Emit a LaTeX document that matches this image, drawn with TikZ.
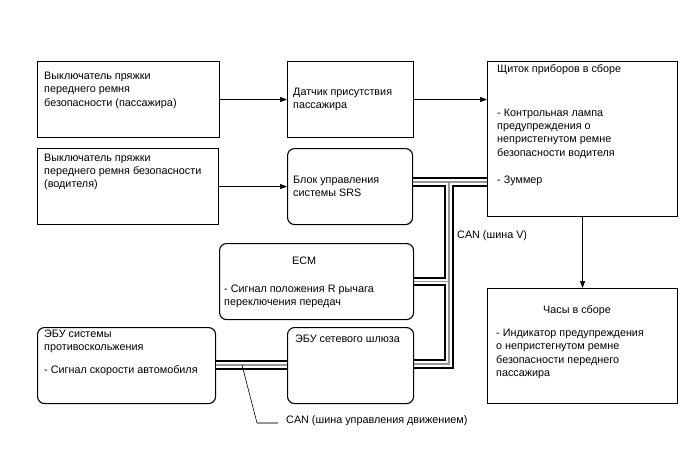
\documentclass[tikz,border=0pt]{standalone}
\usepackage{fontspec}
\setmainfont{Liberation Sans}
\usepackage{xcolor}
\usetikzlibrary{arrows.meta}
\definecolor{busgray}{RGB}{150,150,150}

\begin{document}
\begin{tikzpicture}[x=1pt,y=-1pt,
    sbox/.style={draw, line width=1.1pt, inner sep=0pt, anchor=north west},
    rbox/.style={sbox, rounded corners=7pt},
    txt/.style={inner sep=0pt, align=left, anchor=base west,
                font=\fontsize{10.8}{13.4}\selectfont},
    sig/.style={line width=0.7pt, -{Triangle[length=7pt,width=5pt]}},
    canbus/.style={preaction={draw, black, line width=9.4pt},
                   preaction={draw, white, line width=5.8pt},
                   draw=busgray, line width=1.3pt}]
    \useasboundingbox (0,0) rectangle (688,463);

    % boxes
    \node[sbox, minimum width=182pt, minimum height=76pt] (pbuckle) at (37,61) {};
    \node[sbox, minimum width=126pt, minimum height=76pt] (sensor) at (287,61) {};
    \node[sbox, minimum width=181pt, minimum height=76pt] (dbuckle) at (37,148) {};
    \node[rbox, minimum width=125pt, minimum height=76pt] (srs) at (287,148) {};
    \node[sbox, minimum width=190pt, minimum height=155pt] (cluster) at (487,61) {};
    \node[sbox, minimum width=190pt, minimum height=115pt] (clock) at (487,288) {};
    \node[rbox, minimum width=194pt, minimum height=76pt] (ecm) at (219,243) {};
    \node[rbox, minimum width=178pt, minimum height=76pt] (skid) at (37,327) {};
    \node[rbox, minimum width=126pt, minimum height=76pt] (gateway) at (287,327) {};

    % texts (base = last line)
    \node[txt] (pbuckle-t) at (44,106.3) {Выключатель пряжки\\переднего ремня\\безопасности (пассажира)};
    \node[txt] (sensor-t) at (293,108.4) {Датчик присутствия\\пассажира};
    \node[txt] (dbuckle-t) at (44,187.8) {Выключатель пряжки\\переднего ремня безопасности\\(водителя)};
    \node[txt] (srs-t) at (293,196.9) {Блок управления\\системы SRS};
    \node[txt] (cluster-t) at (497,72.5) {Щиток приборов в сборе};
    \node[txt] (lamp-t) at (497,156.2) {- Контрольная лампа\\предупреждения о\\непристегнутом ремне\\безопасности водителя};
    \node[txt] (buzzer-t) at (497,183) {- Зуммер};
    \node[txt] (clock-t) at (543,313) {Часы в сборе};
    \node[txt] (ind-t) at (496,376.7) {- Индикатор предупреждения\\о непристегнутом ремне\\безопасности переднего\\пассажира};
    \node[txt] (ecm-t) at (292,264) {ECM};
    \node[txt] (rpos-t) at (224,305.9) {- Сигнал положения R рычага\\переключения передач};
    \node[txt] (skid-t) at (44,350.4) {ЭБУ системы\\противоскольжения};
    \node[txt] (speed-t) at (44,373) {- Сигнал скорости автомобиля};
    \node[txt] (gateway-t) at (295,342.5) {ЭБУ сетевого шлюза};
    \node[txt] (canv-t) at (457,238) {CAN (шина V)};
    \node[txt] (canm-t) at (286,423.5) {CAN (шина управления движением)};

    % signal arrows
    \draw[sig] (pbuckle.east) -- (sensor.west);
    \draw[sig] (sensor.east) -- (sensor.east -| cluster.west);
    \draw[sig] (dbuckle.east) -- (srs.west);
    \draw[sig] (cluster.south) -- (clock.north);

    % CAN buses
    \coordinate (vtop) at (449,182);
    \coordinate (vbot) at (449,364);
    \coordinate (vecm) at (449,281.5);
    \coordinate (mbus) at (0,365);
    \draw[canbus] (srs.east |- vtop) -- (vtop -| cluster.west)
                  (vtop) -- (vbot) -- (vbot -| gateway.east)
                  (vecm -| ecm.east) -- (vecm)
                  (mbus -| skid.east) -- (mbus -| gateway.west);

    % leader to bus label
    \coordinate (canlead) at (242,365);
    \coordinate (canknee) at (257,423);
    \coordinate (canend) at (278,423);
    \draw[line width=0.6pt] (canlead) -- (canknee);
    \draw[busgray, line width=1.2pt] (canknee) -- (canend);
\end{tikzpicture}
\end{document}
